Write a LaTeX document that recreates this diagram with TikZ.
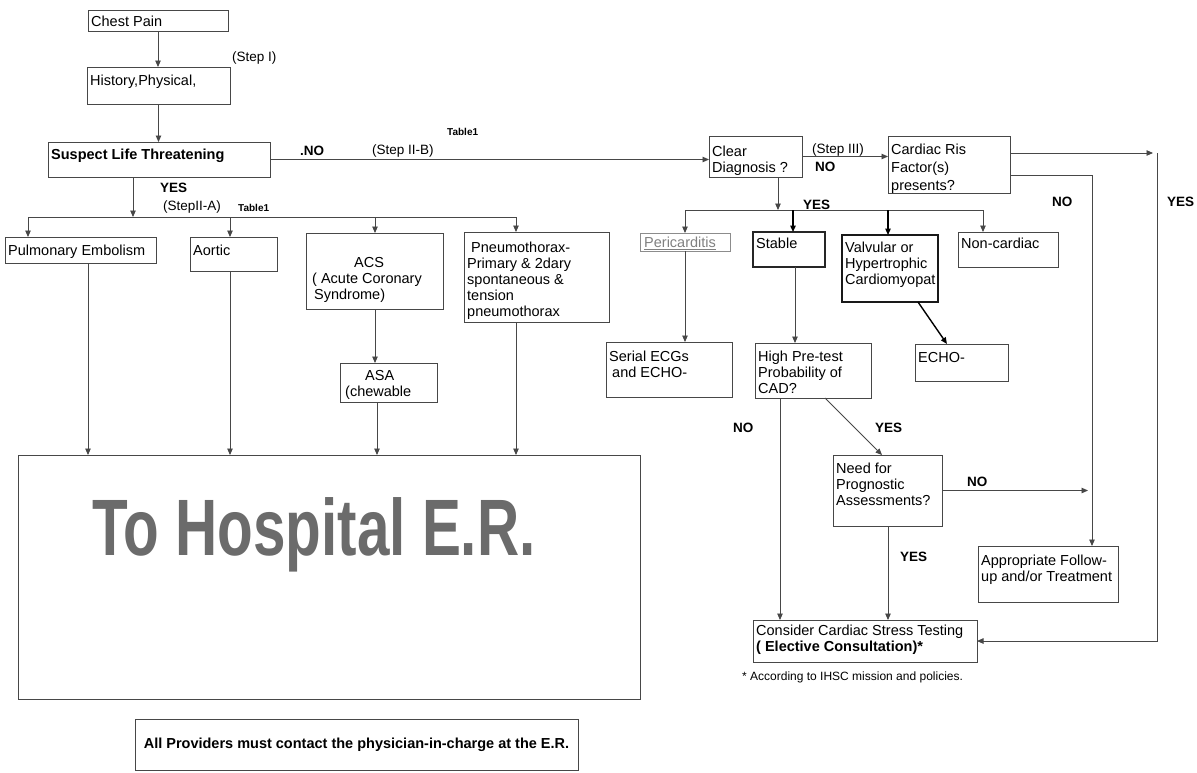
\documentclass[tikz,border=0pt]{standalone}
\usepackage{fontspec}
\usepackage{graphicx}
\setmainfont{Liberation Sans}
\usetikzlibrary{arrows.meta,calc}

% box from its top-left (x1,y1) to bottom-right (x2,y2), y growing downwards
\newcommand{\flowbox}[6][]{%
  \node[box,#1,minimum width={#5-#3},minimum height={#6-#4}] (#2) at (#3,#4) {};}

\begin{document}
\begin{tikzpicture}[x=1pt,y=-1pt,
  font=\fontsize{14.5}{16}\selectfont,
  box/.style={draw=black!72,line width=0.9pt,inner sep=0pt,outer sep=0pt,anchor=north west},
  txt/.style={anchor=north west,align=left,inner sep=0pt},
  ln/.style={draw=black!72,line width=0.9pt},
  arr/.style={ln,-{Triangle[length=6.5pt,width=5.5pt]}},
  heavy/.style={draw=black,line width=1.4pt},
  yn/.style={font=\fontsize{13.5}{16}\selectfont\bfseries,anchor=west,inner sep=0pt},
  stepnote/.style={font=\fontsize{13.5}{16}\selectfont,anchor=west,inner sep=0pt},
  tabnote/.style={font=\fontsize{10}{12}\selectfont\bfseries,anchor=west,inner sep=0pt},
]
\useasboundingbox (0,0) rectangle (1197,772);

% ---------- left branch: life-threatening causes ----------
\flowbox{chest}{88}{10}{228}{31}
\node[txt] (chest-t) at ($(chest.north west)+(3,6)$) {Chest Pain};
\flowbox{hist}{87}{67}{230}{104}
\node[txt] (hist-t) at ($(hist.north west)+(3,8)$) {History,Physical,};
\flowbox{suspect}{48}{142}{270}{177}
\node[txt,font=\fontsize{14.5}{16}\selectfont\bfseries] (suspect-t) at ($(suspect.north west)+(3,7)$) {Suspect Life Threatening};

\flowbox{pe}{5}{237}{156}{263}
\node[txt] (pe-t) at ($(pe.north west)+(3,8)$) {Pulmonary Embolism};
\flowbox{aortic}{190}{237}{277}{271}
\node[txt] (aortic-t) at ($(aortic.north west)+(3,8)$) {Aortic};
\flowbox{acs}{306}{233}{443}{309}
\node[txt] (acs-t) at ($(acs.north west)+(6,24)$) {\hspace*{42pt}ACS\\( Acute Coronary\\\hspace*{2pt}Syndrome)};
\flowbox{pneumo}{464}{232}{609}{322}
\node[txt] (pneumo-t) at ($(pneumo.north west)+(3,10)$) {\hspace*{4pt}Pneumothorax-\\Primary \& 2dary\\spontaneous \&\\tension\\pneumothorax};
\flowbox{asa}{340}{363}{437}{402}
\node[txt] (asa-t) at ($(asa.north west)+(5,7)$) {\hspace*{20pt}ASA\\(chewable};

\flowbox{big}{18}{455}{640}{699}
\node[font=\fontsize{80}{80}\selectfont\bfseries,text=black!58,anchor=base west,inner sep=0pt] (big-t) at (92,555) {\scalebox{0.73}[1]{To Hospital E.R.}};

\flowbox{allp}{135}{719}{578}{770}
\node[font=\fontsize{14.5}{16}\selectfont\bfseries,inner sep=0pt] (allp-t) at (allp.center) {All Providers must contact the physician-in-charge at the E.R.};

% ---------- right branch: non-emergency work-up ----------
\flowbox{clear}{709}{136}{802}{177}
\node[txt] (clear-t) at ($(clear.north west)+(3,10)$) {Clear\\Diagnosis ?};
\flowbox{cardiac}{888}{136}{1010}{193}
\node[txt,font=\fontsize{14.5}{18}\selectfont] (cardiac-t) at ($(cardiac.north west)+(3,8)$) {Cardiac Ris\\Factor(s)\\presents?};

\flowbox[draw=black!45]{peri}{640}{233}{730}{251}
\node[txt,text=black!50] (peri-t) at ($(peri.north west)+(4,4)$) {\underline{Pericarditis}};
\flowbox[line width=1.3pt,draw=black!85]{stable}{753}{232}{825}{267}
\node[txt] (stable-t) at ($(stable.north west)+(3,6)$) {Stable};
\flowbox[line width=1.5pt,draw=black!90]{valv}{842}{235}{938}{302}
\node[txt] (valv-t) at ($(valv.north west)+(3,7)$) {Valvular or\\Hypertrophic\\Cardiomyopat};
\flowbox{noncard}{958}{232}{1058}{267}
\node[txt] (noncard-t) at ($(noncard.north west)+(3,6)$) {Non-cardiac};

\flowbox{serial}{606}{342}{732}{397}
\node[txt] (serial-t) at ($(serial.north west)+(3,9)$) {Serial ECGs\\\hspace*{3pt}and ECHO-};
\flowbox{high}{755}{343}{871}{398}
\node[txt] (high-t) at ($(high.north west)+(3,8)$) {High Pre-test\\Probability of\\CAD?};
\flowbox{echo}{915}{344}{1008}{381}
\node[txt] (echo-t) at ($(echo.north west)+(3,8)$) {ECHO-};

\flowbox{need}{833}{455}{942}{526}
\node[txt] (need-t) at ($(need.north west)+(3,8)$) {Need for\\Prognostic\\Assessments?};
\flowbox{approp}{978}{546}{1118}{602}
\node[txt] (approp-t) at ($(approp.north west)+(3,9)$) {Appropriate Follow-\\up and/or Treatment};
\flowbox{consider}{753}{620}{977}{662}
\node[txt] (consider-t) at ($(consider.north west)+(3,5)$) {Consider Cardiac Stress Testing\\\textbf{( Elective Consultation)*}};
\node[anchor=west,inner sep=0pt,font=\fontsize{12}{14}\selectfont] (foot) at (742,677) {* According to IHSC mission and policies.};

% ---------- connectors, left ----------
\draw[arr] (chest.south) -- (chest.south |- hist.north);
\draw[arr] (hist.south) -- (hist.south |- suspect.north);
\coordinate (yesA) at (133,217);
\coordinate (brA) at (28,217);
\coordinate (brB) at (230,217);
\coordinate (brC) at (375,217);
\coordinate (brD) at (516,217);
\draw[arr] (suspect.south -| yesA) -- (yesA);
\draw[ln] (brA) -- (brD);
\draw[arr] (brA) -- (brA |- pe.north);
\draw[arr] (brB) -- (brB |- aortic.north);
\draw[arr] (brC) -- (brC |- acs.north);
\draw[arr] (brD) -- (brD |- pneumo.north);
\draw[arr] (acs.south -| brC) -- (asa.north -| brC);
\coordinate (erA) at (88,455);
\coordinate (erB) at (230,455);
\coordinate (erC) at (377,455);
\coordinate (erD) at (516,455);
\draw[arr] (pe.south -| erA) -- (erA |- big.north);
\draw[arr] (aortic.south -| erB) -- (erB |- big.north);
\draw[arr] (asa.south -| erC) -- (erC |- big.north);
\draw[arr] (pneumo.south -| erD) -- (erD |- big.north);

% ---------- connectors, right ----------
\draw[arr] (suspect.east) -- (suspect.east -| clear.west);
\draw[arr] (clear.east) -- (clear.east -| cardiac.west);
\coordinate (yesB) at (778,210);
\coordinate (brE) at (685,210);
\coordinate (brF) at (793,210);
\coordinate (brG) at (888,210);
\coordinate (brH) at (983,210);
\draw[arr] (clear.south -| yesB) -- (yesB);
\draw[ln] (brE) -- (brH);
\draw[arr] (brE) -- (brE |- peri.north);
\draw[arr,heavy] (brF) -- (brF |- stable.north);
\draw[arr,draw=black,line width=1.2pt] (brG) -- (brG |- valv.north);
\draw[arr] (brH) -- (brH |- noncard.north);
\draw[arr] (peri.south -| brE) -- (serial.north -| brE);
\coordinate (stX) at (795,300);
\draw[arr] (stable.south -| stX) -- (high.north -| stX);
\coordinate (vA) at (918,302);
\coordinate (vB) at (947,344);
\draw[arr,heavy] (valv.south -| vA) -- (echo.north -| vB);
\coordinate (hiNo) at (780,400);
\draw[arr] (high.south -| hiNo) -- (consider.north -| hiNo);
\coordinate (hiY1) at (825,400);
\coordinate (hiY2) at (882,450);
\draw[arr] (high.south -| hiY1) -- (need.north -| hiY2);
\coordinate (ndY) at (888,560);
\draw[arr] (need.south -| ndY) -- (consider.north -| ndY);
\coordinate (noC) at (1092,175);
\draw[arr] (cardiac.east |- noC) -- (noC) -- (noC |- approp.north);
\draw[arr,shorten >=4pt] (need.east) -- (need.east -| noC);
\coordinate (yesC) at (1157,153);
\draw[arr,shorten >=4pt] (cardiac.east |- yesC) -- (yesC);
\draw[arr] (yesC) |- (consider.east);

% ---------- branch labels ----------
\node[stepnote] (stepI) at (232,58) {(Step I)};
\node[yn] (noA) at (300,151) {.NO};
\node[stepnote] (stepIIB) at (372,151) {(Step II-B)};
\node[tabnote] (tabA) at (447,132) {Table1};
\node[yn] (yesAl) at (160,188) {YES};
\node[stepnote] (stepIIA) at (163,207) {(StepII-A)};
\node[tabnote] (tabB) at (238,208) {Table1};
\node[stepnote] (stepIII) at (812,150) {(Step III)};
\node[yn] (noB) at (815,167) {NO};
\node[yn] (yesBl) at (803,205) {YES};
\node[yn] (noCl) at (1052,202) {NO};
\node[yn] (yesCl) at (1167,202) {YES};
\node[yn] (noD) at (733,428) {NO};
\node[yn] (yesD) at (875,428) {YES};
\node[yn] (noE) at (967,482) {NO};
\node[yn] (yesE) at (900,557) {YES};
\end{tikzpicture}
\end{document}
